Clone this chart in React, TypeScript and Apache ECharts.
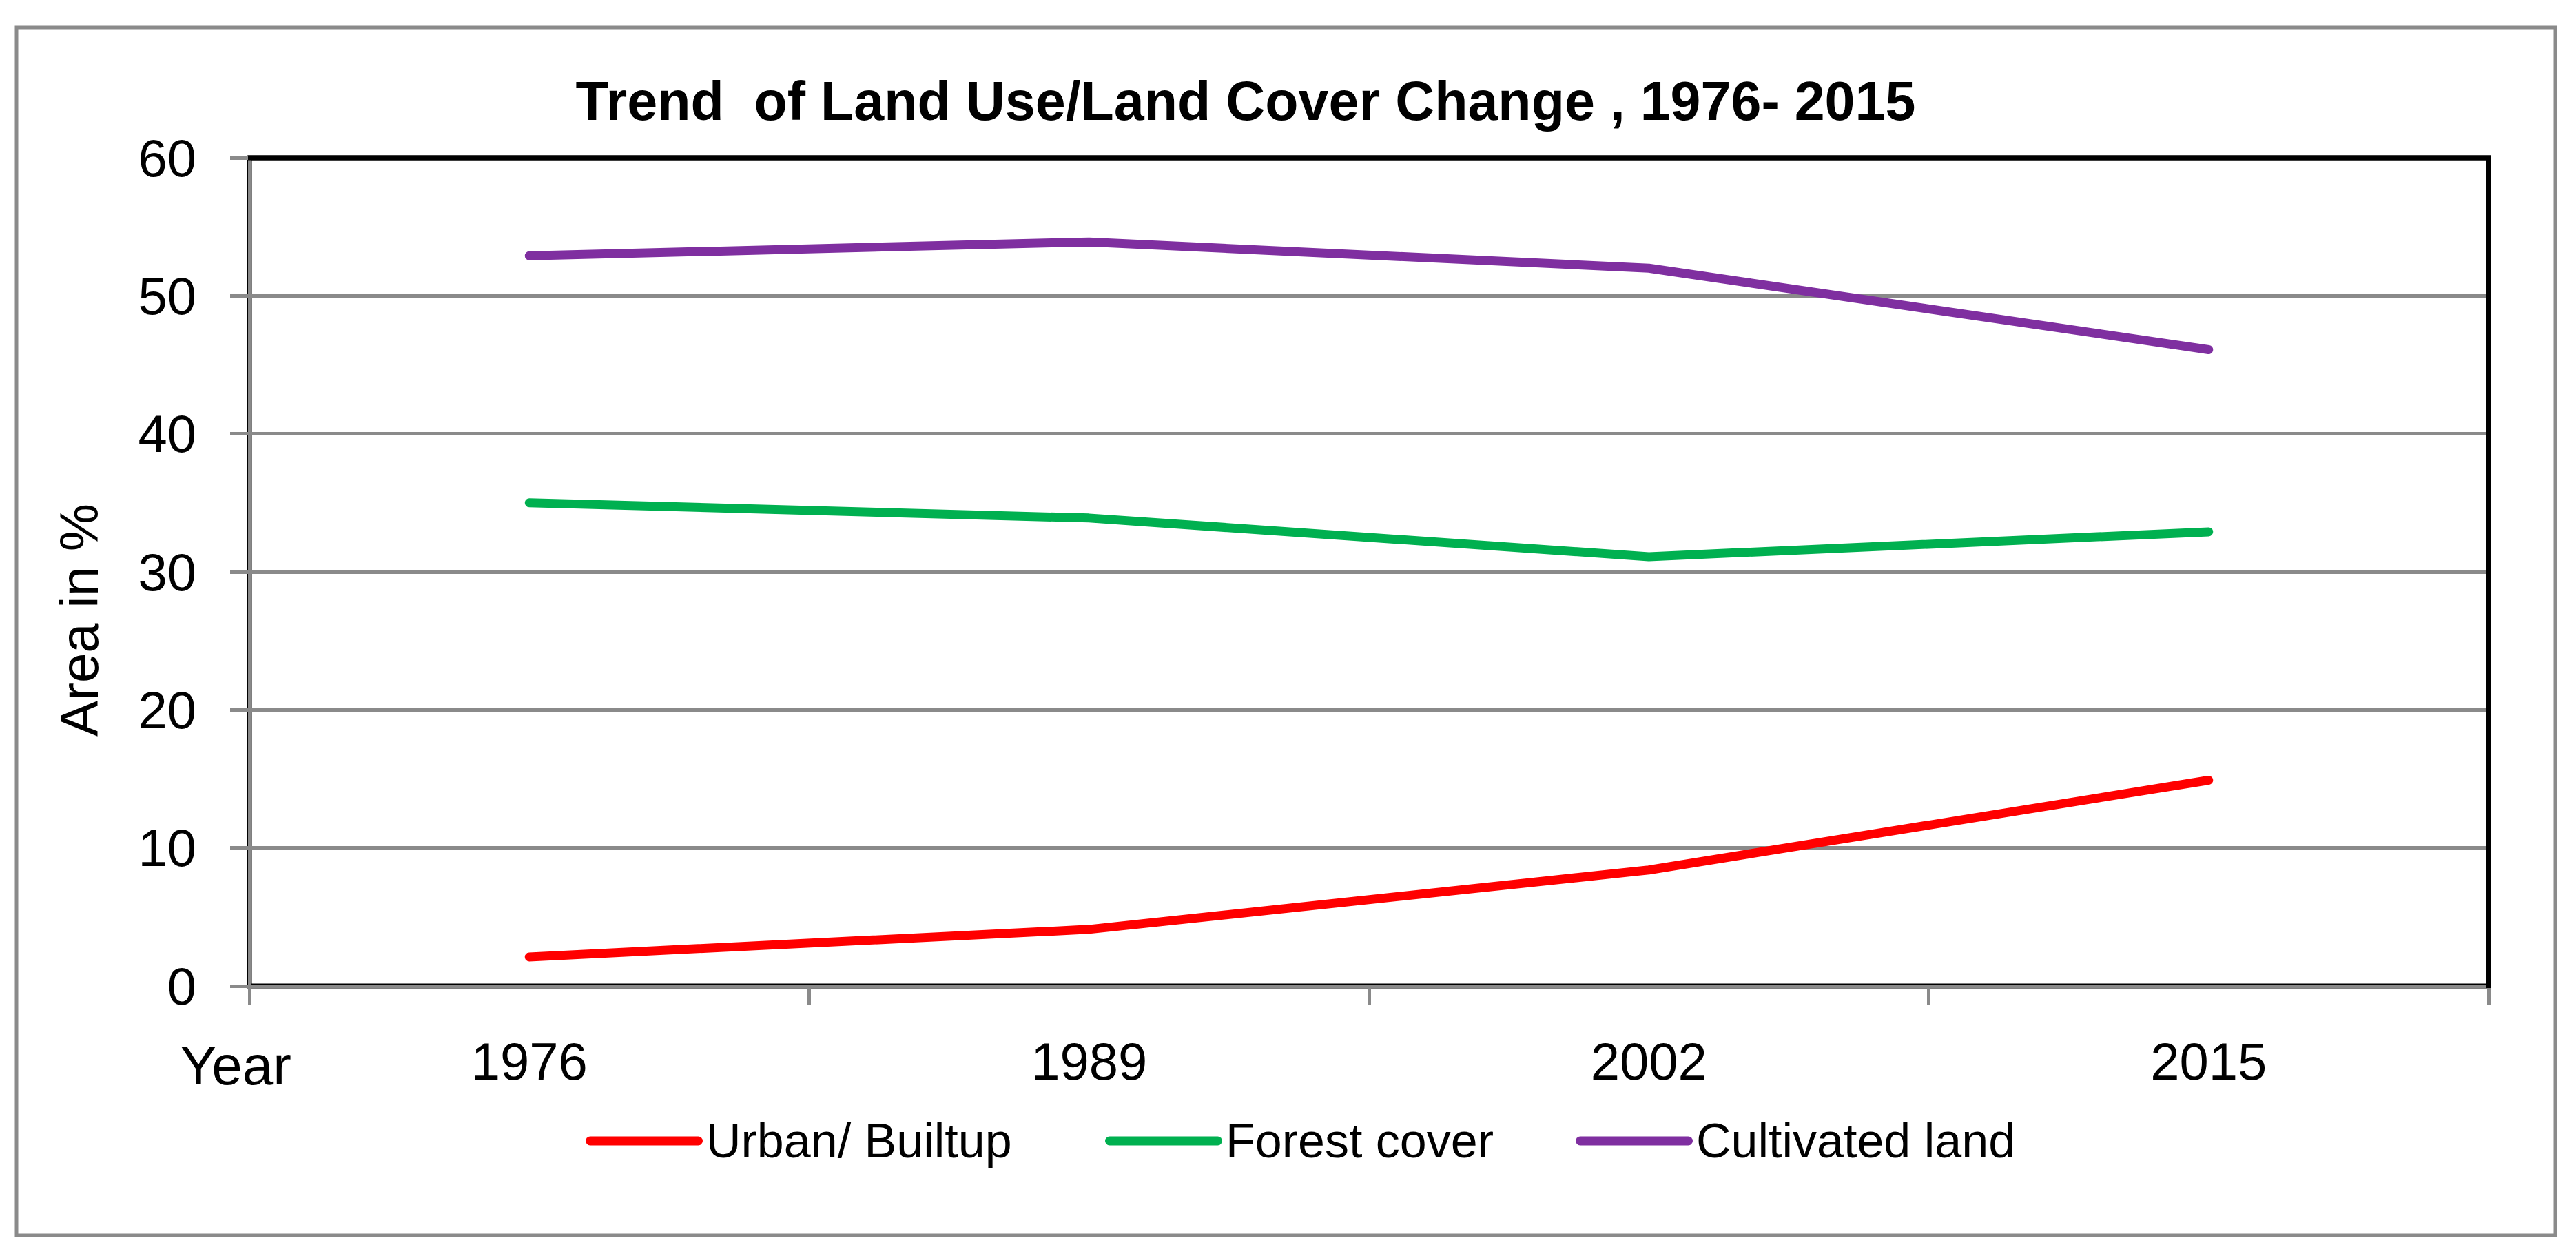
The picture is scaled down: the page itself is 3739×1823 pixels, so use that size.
import React, { useEffect, useRef } from "react";
import * as echarts from "echarts";

const categories = ["1976", "1989", "2002", "2015"];
const urbanBuiltup = [2.1, 4.1, 8.4, 14.9];
const forestCover = [35.0, 33.9, 31.1, 32.9];
const cultivatedLand = [52.9, 53.9, 52.0, 46.1];
const seriesNames = ["Urban/ Builtup", "Forest cover", "Cultivated land"];
const titleText = "Trend  of Land Use/Land Cover Change , 1976- 2015";
const yAxisTitle = "Area in %";
const xAxisTitle = "Year";

const W = 3739;
const H = 1823;
const GL = 362, GT = 229, GR = 3612, GB = 1431;
const GRAY = "#8a8a8a";
const FONT = "'Liberation Sans', Arial, sans-serif";
const ICON = "path://M6.5,0 L163.5,0 A6.5,6.5 0 0 1 163.5,13 L6.5,13 A6.5,6.5 0 0 1 6.5,0 Z";

export default function App() {
  const ref = useRef<HTMLDivElement>(null);
  useEffect(() => {
    document.body.style.margin = "0";
    document.body.style.overflow = "hidden";
    const chart = echarts.init(ref.current!, null, { renderer: "svg" });
    const colors = ["#ff0000", "#00b050", "#7f2fa0"];
    const data = [urbanBuiltup, forestCover, cultivatedLand];
    const legendLefts = [845, 1599, 2282];
    chart.setOption({
      animation: false,
      backgroundColor: "#ffffff",
      grid: { left: GL, top: GT, width: GR - GL, height: GB - GT, show: false },
      xAxis: {
        type: "category",
        data: categories,
        boundaryGap: true,
        axisLine: { show: true, lineStyle: { color: GRAY, width: 5 } },
        axisTick: { show: true, length: 28, lineStyle: { color: GRAY, width: 5 } },
        axisLabel: { color: "#000", fontFamily: FONT, fontSize: 76, lineHeight: 76, margin: 71 },
        splitLine: { show: false },
      },
      yAxis: {
        type: "value",
        min: 0,
        max: 60,
        interval: 10,
        axisLine: { show: true, lineStyle: { color: GRAY, width: 5 } },
        axisTick: { show: true, length: 28, lineStyle: { color: GRAY, width: 5 } },
        axisLabel: { color: "#000", fontFamily: FONT, fontSize: 76, margin: 77 },
        splitLine: { show: true, lineStyle: { color: GRAY, width: 5 } },
      },
      legend: seriesNames.map((n, i) => ({
        data: [n],
        left: legendLefts[i],
        top: 1616,
        orient: "horizontal",
        icon: ICON,
        itemWidth: 170,
        itemHeight: 13,
        symbolKeepAspect: false,
        textStyle: { color: "#000", fontFamily: FONT, fontSize: 70, lineHeight: 70 },
      })),
      series: seriesNames.map((n, i) => ({
        name: n,
        type: "line",
        data: data[i],
        symbol: "none",
        showSymbol: false,
        color: colors[i],
        lineStyle: { color: colors[i], width: 13, cap: "round", join: "round" },
        itemStyle: { color: colors[i] },
        z: 5,
      })),
      graphic: [
        {
          type: "rect",
          z: -1,
          shape: { x: GL, y: GT, width: GR - GL, height: GB - GT },
          style: { fill: "none", stroke: "#000", lineWidth: 7 },
        },
        {
          type: "line",
          z: 10,
          shape: { x1: GL - 2, y1: GT, x2: GR + 3, y2: GT },
          style: { stroke: "#000", lineWidth: 7 },
        },
        {
          type: "line",
          z: 10,
          shape: { x1: GR, y1: GT, x2: GR, y2: GB + 3 },
          style: { stroke: "#000", lineWidth: 7 },
        },
        {
          type: "rect",
          z: 0,
          shape: { x: 24, y: 40, width: 3685, height: 1753 },
          style: { fill: "none", stroke: GRAY, lineWidth: 5 },
        },
        {
          type: "text",
          z: 10,
          x: 1808,
          y: 146,
          style: {
            text: titleText,
            fill: "#000",
            font: `bold 79px ${FONT}`,
            textAlign: "center",
            textVerticalAlign: "middle",
          },
        },
        {
          type: "text",
          z: 10,
          x: 115,
          y: 900,
          rotation: Math.PI / 2,
          style: {
            text: yAxisTitle,
            fill: "#000",
            font: `78px ${FONT}`,
            textAlign: "center",
            textVerticalAlign: "middle",
          },
        },
        {
          type: "text",
          z: 10,
          x: 342,
          y: 1546,
          style: {
            text: xAxisTitle,
            fill: "#000",
            font: `80px ${FONT}`,
            textAlign: "center",
            textVerticalAlign: "middle",
          },
        },
      ],
    });
    return () => chart.dispose();
  }, []);
  return <div ref={ref} style={{ width: W + "px", height: H + "px" }} />;
}
